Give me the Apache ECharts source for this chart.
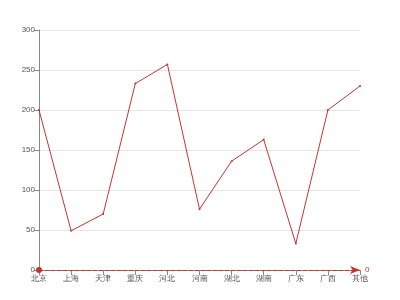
<!DOCTYPE html>
<html><head><meta charset="utf-8">
<script src="https://cdn.jsdelivr.net/npm/echarts@6/dist/echarts.min.js"></script>
<style>html,body{margin:0;padding:0;background:#fff}#c{width:400px;height:300px}</style>
</head><body><div id="c"></div>
<script>
var categories = ['北京','上海','天津','重庆','河北','河南','湖北','湖南','广东','广西','其他'];
var values = [200, 49, 70, 233, 257, 76, 136, 163, 33, 200, 230];
var markValue = 0;
var chart = echarts.init(document.getElementById('c'));
chart.setOption({
  animation: false,
  grid: {left: 39, right: 40, top: 30, bottom: 30},
  xAxis: {
    type: 'category', data: categories, boundaryGap: false,
    axisLine: {lineStyle: {color: '#888'}},
    axisTick: {alignWithLabel: true, lineStyle: {color: '#888'}},
    axisLabel: {fontSize: 8, color: '#555', margin: 5}
  },
  yAxis: {
    type: 'value', min: 0, max: 300, interval: 50,
    axisLine: {show: true, lineStyle: {color: '#888'}},
    axisTick: {show: true, lineStyle: {color: '#888'}},
    axisLabel: {fontSize: 8, color: '#555', margin: 4},
    splitLine: {lineStyle: {color: '#e6e6e6'}}
  },
  series: [{
    type: 'line', data: values, color: '#c23531',
    symbol: 'circle', symbolSize: 2,
    lineStyle: {width: 1},
    markLine: {
      symbol: ['circle', 'arrow'], symbolSize: [6, 10],
      lineStyle: {color: '#c23531', type: 'dashed', width: 1},
      label: {fontSize: 8, color: '#c23531'},
      data: [{yAxis: markValue}]
    }
  }]
});
</script></body></html>
